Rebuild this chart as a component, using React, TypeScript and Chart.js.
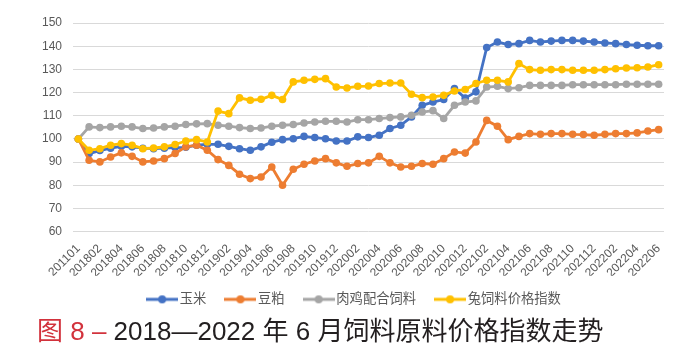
import React, { useEffect, useRef } from "react";
import { Chart, registerables } from "chart.js";

Chart.register(...registerables);

const categories: string[] = [
  "201101", "201801", "201802", "201803", "201804", "201805", "201806", "201807", "201808", "201809",
  "201810", "201811", "201812", "201901", "201902", "201903", "201904", "201905", "201906", "201907",
  "201908", "201909", "201910", "201911", "201912", "202001", "202002", "202003", "202004", "202005",
  "202006", "202007", "202008", "202009", "202010", "202011", "202012", "202101", "202102", "202103",
  "202104", "202105", "202106", "202107", "202108", "202109", "202110", "202111", "202112", "202201",
  "202202", "202203", "202204", "202205", "202206",
];

const corn: number[] = [
  100, 93.7, 95.0, 96.0, 96.8, 96.6, 96.0, 95.8, 96.0, 96.3,
  96.4, 97.3, 97.7, 97.7, 96.8, 95.8, 95.1, 96.6, 98.6, 99.7,
  100.1, 101.1, 100.6, 100.1, 99.1, 99.1, 100.9, 100.6, 101.6, 104.5,
  105.9, 109.5, 114.5, 115.9, 117.0, 121.7, 117.6, 120.3, 139.4, 141.8,
  140.7, 141.1, 142.5, 141.8, 142.2, 142.5, 142.5, 142.2, 141.8, 141.4,
  141.1, 140.7, 140.4, 140.2, 140.2,
];

const soymeal: number[] = [
  100, 90.8, 90.1, 92.2, 94.0, 92.5, 90.1, 90.5, 91.5, 93.7,
  96.6, 97.3, 95.1, 91.1, 88.6, 84.8, 82.9, 83.6, 87.9, 80.0,
  86.9, 89.1, 90.5, 91.5, 89.7, 88.2, 89.4, 89.7, 92.5, 89.7,
  87.9, 88.2, 89.4, 89.1, 91.5, 94.4, 93.9, 98.7, 108.0, 105.5,
  99.7, 101.1, 102.3, 102.0, 102.3, 102.3, 102.0, 101.9, 101.6, 102.0,
  102.3, 102.3, 102.6, 103.4, 104.0,
];

const broilerFeed: number[] = [
  100, 105.2, 104.9, 105.2, 105.5, 105.2, 104.5, 104.7, 105.2, 105.5,
  106.2, 106.5, 106.6, 105.9, 105.5, 104.9, 104.5, 104.7, 105.5, 105.9,
  106.2, 106.9, 107.3, 107.6, 107.6, 107.3, 108.3, 108.3, 108.8, 109.2,
  109.5, 110.2, 111.6, 112.2, 108.8, 114.5, 115.9, 116.4, 122.4, 122.7,
  121.7, 122.1, 123.1, 123.1, 123.1, 123.1, 123.4, 123.4, 123.4, 123.4,
  123.4, 123.6, 123.6, 123.6, 123.6,
];

const rabbitFeed: number[] = [
  100, 95.1, 95.8, 97.3, 98.0, 97.3, 95.8, 96.1, 96.6, 97.6,
  99.1, 99.7, 98.7, 112.0, 110.9, 117.7, 116.7, 117.1, 118.8, 117.0,
  124.6, 125.3, 125.7, 126.0, 122.4, 122.0, 122.7, 122.8, 123.9, 124.1,
  124.1, 119.3, 117.8, 118.1, 118.8, 120.7, 121.3, 123.9, 125.3, 125.3,
  124.6, 132.5, 129.9, 129.6, 129.9, 129.9, 129.6, 129.6, 129.6, 129.9,
  130.3, 130.6, 130.7, 131.0, 132.0,
];

const seriesNames = ["玉米", "豆粕", "肉鸡配合饲料", "兔饲料价格指数"];
const seriesColors = ["#4472C4", "#ED7D31", "#A5A5A5", "#FFC000"];
const yTicks = { min: 60, max: 150, step: 10 };

const FONT = '"Liberation Sans", "Noto Sans CJK SC", sans-serif';

function legendIcon(color: string): HTMLCanvasElement {
  const c = document.createElement("canvas");
  c.width = 32;
  c.height = 10;
  const ctx = c.getContext("2d")!;
  ctx.strokeStyle = color;
  ctx.lineWidth = 3;
  ctx.beginPath();
  ctx.moveTo(0, 5);
  ctx.lineTo(32, 5);
  ctx.stroke();
  ctx.fillStyle = color;
  ctx.beginPath();
  ctx.arc(16, 5, 4, 0, Math.PI * 2);
  ctx.fill();
  return c;
}

const shiftLegend = {
  id: "shiftLegend",
  afterLayout(chart: any) {
    const lg = chart.legend;
    if (!lg) return;
    lg.left += 24;
    lg.right += 24;
    lg.top -= 6;
    lg.bottom -= 6;
  },
};

export default function App() {
  const ref = useRef<HTMLCanvasElement | null>(null);

  useEffect(() => {
    document.body.style.margin = "0";
    if (!ref.current) return;
    const all = [corn, soymeal, broilerFeed, rabbitFeed];
    const icons = seriesColors.map(legendIcon);
    const chart = new Chart(ref.current, {
      type: "line",
      data: {
        labels: categories,
        datasets: all.map((d, i) => ({
          label: seriesNames[i],
          data: d,
          borderColor: seriesColors[i],
          backgroundColor: seriesColors[i],
          borderWidth: 2.8,
          pointRadius: 3.8,
          pointBorderWidth: 0,
          pointStyle: "circle",
          tension: 0,
          order: 4 - i,
        })),
      },
      plugins: [shiftLegend],
      options: {
        animation: false,
        responsive: false,
        devicePixelRatio: 1,
        layout: { padding: { top: 23, right: 28, left: 0, bottom: 0 } },
        plugins: {
          title: { display: false },
          tooltip: { enabled: false },
          legend: {
            position: "bottom",
            labels: {
              usePointStyle: true,
              pointStyleWidth: 22,
              color: "#595959",
              font: { family: FONT, size: 13.3 },
              padding: 23,
              generateLabels: (ch: any) => {
                const base = (Chart.defaults.plugins.legend.labels as any).generateLabels(ch);
                return base
                  .map((l: any) => ({ ...l, pointStyle: icons[l.datasetIndex] }))
                  .sort((a: any, b: any) => a.datasetIndex - b.datasetIndex);
              },
            },
          },
        },
        scales: {
          x: {
            type: "category",
            offset: true,
            grid: { display: false },
            border: { display: false },
            afterFit: (s: any) => {
              s.height = 44;
            },
            ticks: {
              autoSkip: false,
              minRotation: 45,
              maxRotation: 45,
              color: "#595959",
              font: { family: FONT, size: 12 },
              padding: 2,
              callback: (_v: any, i: number) => (i % 2 === 0 ? categories[i] : ""),
            },
          },
          y: {
            min: yTicks.min,
            max: yTicks.max,
            afterFit: (s: any) => {
              s.width = 73;
            },
            grid: { color: "#D9D9D9", lineWidth: 1, drawTicks: false },
            border: { display: false },
            ticks: {
              stepSize: yTicks.step,
              color: "#595959",
              font: { family: FONT, size: 12 },
              padding: 11,
            },
          },
        },
      },
    });
    return () => chart.destroy();
  }, []);

  return (
    <div style={{ position: "relative", width: 692, height: 356, background: "#fff", overflow: "hidden" }}>
      <canvas ref={ref} width={692} height={322} style={{ display: "block" }} />
      <div
        style={{
          position: "absolute",
          left: 37,
          top: 316,
          fontFamily: FONT,
          fontSize: 26,
          lineHeight: "30px",
          color: "#231F20",
          whiteSpace: "nowrap",
        }}
      >
        <span style={{ color: "#D2323C" }}>图 8 –</span>
        <span> 2018—2022 年 6 月饲料原料价格指数走势</span>
      </div>
    </div>
  );
}
